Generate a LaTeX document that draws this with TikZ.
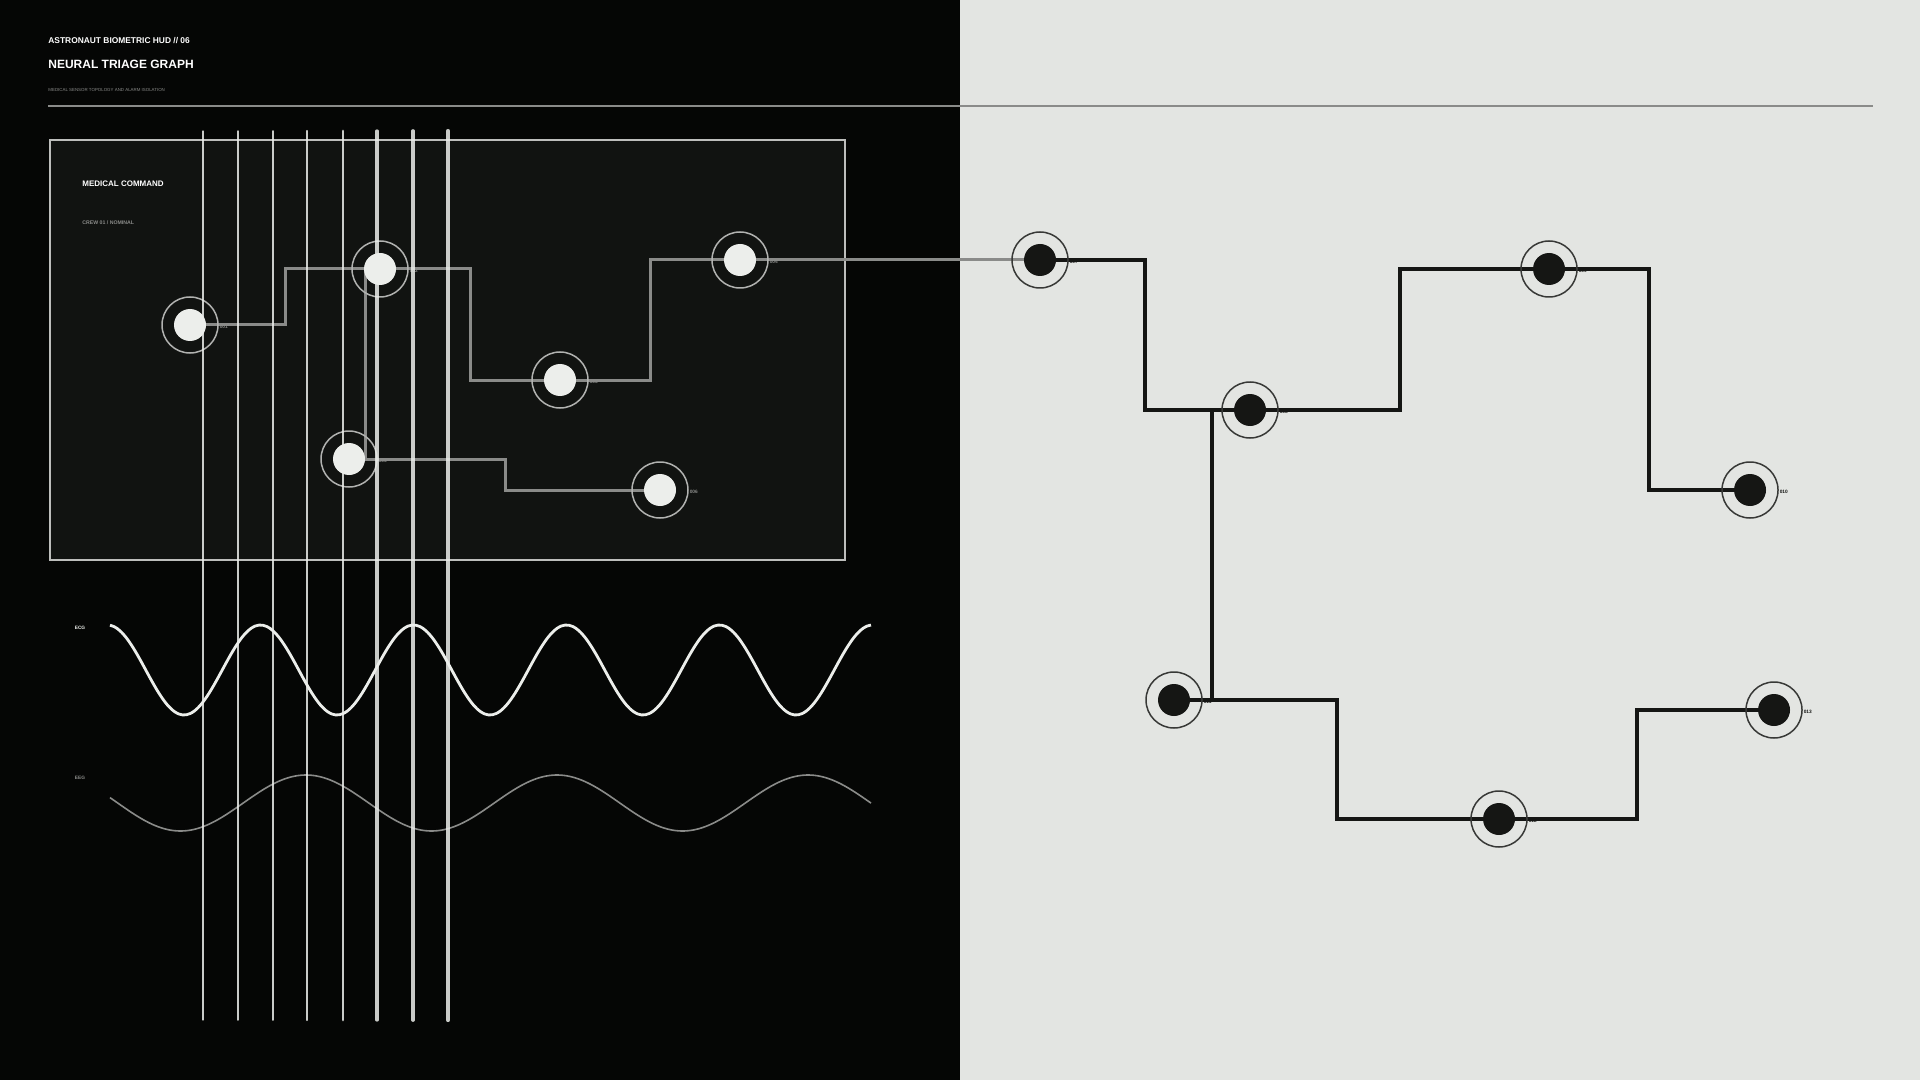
\documentclass[tikz,border=0pt]{standalone}
\usepackage{fontspec}
\setmainfont{Liberation Sans}
\usetikzlibrary{backgrounds}
\definecolor{hudblack}{HTML}{050605}
\definecolor{hudpanel}{HTML}{111311}
\definecolor{hudpaper}{HTML}{E3E5E2}
\definecolor{hudlight}{HTML}{ECEEEB}
\definecolor{hudgray}{HTML}{8A8B89}
\definecolor{hudink}{HTML}{151614}
\tikzset{
  ring/.style={circle, draw, line width=0.75pt, minimum size=28pt, inner sep=0pt},
  dotl/.style={circle, fill=hudlight, minimum size=16pt, inner sep=0pt},
  dotd/.style={circle, fill=hudink, minimum size=16pt, inner sep=0pt},
  tagl/.style={font=\bfseries\fontsize{2.4}{2.4}\selectfont, text=hudgray},
  tagd/.style={font=\bfseries\fontsize{2.4}{2.4}\selectfont, text=hudink},
  wirel/.style={draw=hudgray, line width=1.5pt},
  wired/.style={draw=hudink, line width=1.7pt},
}
\begin{document}
\begin{tikzpicture}[x=0.5pt, y=-0.5pt]
        % Fundo e painel
        \useasboundingbox (0,0) rectangle (1920,1080);
        \begin{scope}[on background layer]
          \fill[hudblack] (0,0) rectangle (960,1080);
          \fill[hudpaper] (960,0) rectangle (1920,1080);
          \draw[fill=hudpanel, draw=hudlight!80!black, line width=1.2pt] (50,140) rectangle (845,560);
        \end{scope}
        
        % Cabeçalho
        \node[anchor=west, inner sep=0pt, text=white, font=\bfseries\fontsize{4.2}{5}\selectfont] (kicker) at (48,41) {ASTRONAUT BIOMETRIC HUD // 06};
        \node[anchor=west, inner sep=0pt, text=white, font=\bfseries\fontsize{6}{7}\selectfont] (title) at (48,64) {NEURAL TRIAGE GRAPH};
        \node[anchor=west, inner sep=0pt, text=hudgray, font=\fontsize{2.2}{3}\selectfont] (sub) at (48,90) {MEDICAL SENSOR TOPOLOGY AND ALARM ISOLATION};
        \draw[hudgray, line width=0.8pt] (48,106) -- (1873,106);
        
        \node[anchor=west, inner sep=0pt, text=white, font=\bfseries\fontsize{4}{5}\selectfont] (cmd) at (82,184) {MEDICAL COMMAND};
        \node[anchor=west, inner sep=0pt, text=hudgray, font=\bfseries\fontsize{2.6}{3}\selectfont] (crew) at (82,223) {CREW 01 / NOMINAL};
        
        % Nós
        \foreach \n/\x/\y in {001/190/325, 002/380/269, 003/560/380, 004/740/260, 005/349/459, 006/660/490} {
          \node[ring, draw=hudlight!75!black] at (\x,\y) {};
          \node[dotl, label={[tagl, inner sep=0pt, xshift=6.5pt, yshift=-1pt]0:\n}] (n\n) at (\x,\y) {};
        }
        \foreach \n/\x/\y in {007/1040/260, 008/1250/410, 009/1549/269, 010/1750/490, 011/1174/700, 012/1499/819, 013/1774/710} {
          \node[ring, draw=hudink!85!white] at (\x,\y) {};
          \node[dotd, label={[tagd, inner sep=0pt, xshift=6.5pt, yshift=-1pt]0:\n}] (n\n) at (\x,\y) {};
        }
        
        % Ligações
        \begin{scope}[on background layer]
          \draw[wirel] (n001.center) -- ++(95,0) |- (n002.center);
          \draw[wirel] (n002.center) -- ++(90,0) |- (n003.center);
          \draw[wirel] (n003.center) -- ++(90,0) |- (n004.center);
          \draw[wirel] (n004.center) -- (n007.center);
          \draw[wirel] ([xshift=-7.5pt]n002.center) |- (n005.center);
          \draw[wirel] (n005.center) -- ++(156,0) |- (n006.center);
          \draw[wired] (n007.center) -- ++(105,0) |- (n008.center);
          \draw[wired] (n008.center) -- ++(150,0) |- (n009.center);
          \draw[wired] (n009.center) -- ++(100,0) |- (n010.center);
          \draw[wired] ([xshift=-19pt]n008.center) |- (n011.center);
          \draw[wired] (n011.center) -- ++(163,0) |- (n012.center);
          \draw[wired] (n012.center) -- ++(138,0) |- (n013.center);
        \end{scope}
        
        % Sinais
        \node[text=hudlight, font=\bfseries\fontsize{2.4}{3}\selectfont] (ecg) at (80,628) {ECG};
        \node[text=hudgray, font=\bfseries\fontsize{2.4}{3}\selectfont] (eeg) at (80,778) {EEG};
        \draw[hudlight, line width=1.4pt, smooth, samples=200, domain=110:871] plot (\x, {670+45*cos(2.353*(\x-184))});
        \draw[hudgray, line width=0.8pt, smooth, samples=160, domain=110:871] plot (\x, {803-28*cos(1.434*(\x-306))});
        
        % Barras verticais
        \foreach \x [count=\i] in {203,238,273,307,343,377,413,448} {
          \draw[hudlight, opacity=0.85, line width={0.3pt+0.22pt*\i}, line cap=round] (\x,131) -- (\x,1020);
        }
        
    \end{tikzpicture}
\end{document}
